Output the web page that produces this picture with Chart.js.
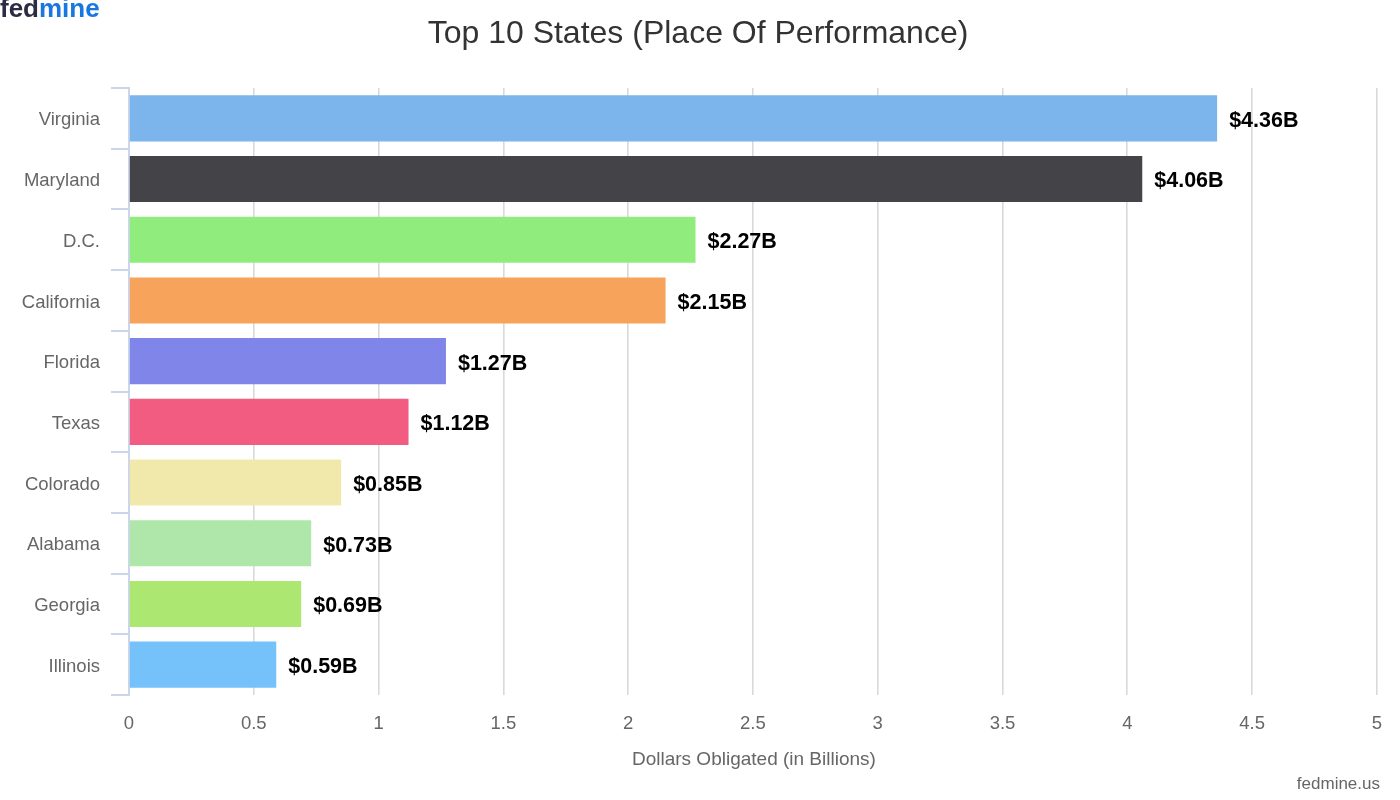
<!DOCTYPE html>
<html>
<head>
<meta charset="utf-8">
<script src="https://cdn.jsdelivr.net/npm/chart.js@4"></script>
<style>
html,body{margin:0;padding:0;background:#fff;}
#wrap{width:1400px;height:800px;position:relative;}
</style>
</head>
<body>
<div id="wrap"><canvas id="c" width="1400" height="800"></canvas></div>
<script>
const categories = ['Virginia','Maryland','D.C.','California','Florida','Texas','Colorado','Alabama','Georgia','Illinois'];
const values = [4.36, 4.06, 2.27, 2.15, 1.27, 1.12, 0.85, 0.73, 0.69, 0.59];
const barColors = ['#7cb5ec','#434348','#90ed7d','#f7a35c','#8085e9','#f15c80','#f1e9ac','#afe7ab','#abe771','#75c1f9'];
const xTicks = [0,0.5,1,1.5,2,2.5,3,3.5,4,4.5,5];
const chartTitle = 'Top 10 States (Place Of Performance)';
const xAxisTitle = 'Dollars Obligated (in Billions)';
const creditText = 'fedmine.us';

const FONT = '"Liberation Sans", Arial, Helvetica, sans-serif';

const decor = {
  id: 'decor',
  afterDraw(chart) {
    const ctx = chart.ctx;
    const area = chart.chartArea;
    ctx.save();
    // title
    ctx.fillStyle = '#333333';
    ctx.font = '32px ' + FONT;
    ctx.textAlign = 'center';
    ctx.textBaseline = 'middle';
    ctx.fillText(chartTitle, 698, 34);
    // x axis title
    ctx.fillStyle = '#666666';
    ctx.font = '19px ' + FONT;
    ctx.fillText(xAxisTitle, (area.left + area.right) / 2 + 1, 760);
    // credit
    ctx.textAlign = 'right';
    ctx.font = '17px ' + FONT;
    ctx.fillStyle = '#666666';
    ctx.fillText(creditText, 1380, 784);
    // logo
    ctx.textAlign = 'left';
    ctx.textBaseline = 'alphabetic';
    ctx.font = 'bold 26px ' + FONT;
    ctx.fillStyle = '#2a2d43';
    ctx.fillText('fed', 0, 17);
    const w = ctx.measureText('fed').width;
    ctx.fillStyle = '#1877e0';
    ctx.fillText('mine', w, 17);
    // data labels
    const meta = chart.getDatasetMeta(0);
    ctx.font = 'bold 21.5px ' + FONT;
    ctx.fillStyle = '#000000';
    ctx.textBaseline = 'middle';
    meta.data.forEach((bar, i) => {
      const v = chart.data.datasets[0].data[i];
      ctx.fillText('$' + v.toFixed(2) + 'B', bar.x + 12, bar.y + 2.5);
    });
    ctx.restore();
  }
};

new Chart(document.getElementById('c'), {
  type: 'bar',
  data: {
    labels: categories,
    datasets: [{
      data: values,
      backgroundColor: barColors,
      borderWidth: 0,
      barPercentage: 0.76,
      categoryPercentage: 1
    }]
  },
  options: {
    indexAxis: 'y',
    responsive: false,
    animation: false,
    devicePixelRatio: 1,
    layout: { padding: { top: 88, right: 21, left: 0, bottom: 0 } },
    plugins: { legend: { display: false }, tooltip: { enabled: false }, title: { display: false } },
    scales: {
      x: {
        type: 'linear',
        min: 0,
        max: 5,
        afterBuildTicks(scale) { scale.ticks = xTicks.map(v => ({ value: v })); },
        afterFit(scale) { scale.height = 105; },
        border: { display: false },
        grid: {
          drawTicks: false,
          color: ctx => (ctx.tick && ctx.tick.value === 0) ? 'rgba(0,0,0,0)' : '#d9d9d9',
          lineWidth: 1.6
        },
        ticks: {
          padding: 18,
          color: '#666666',
          font: { family: FONT, size: 18.5 },
          maxRotation: 0,
          autoSkip: false,
          callback: v => String(v)
        }
      },
      y: {
        afterFit(scale) { scale.width = 129; },
        border: { display: true, color: '#ccd6eb', width: 2 },
        grid: {
          offset: true,
          drawOnChartArea: false,
          drawTicks: true,
          tickLength: 18,
          color: '#ccd6eb',
          lineWidth: 2
        },
        ticks: {
          padding: 11,
          labelOffset: 2,
          color: '#666666',
          font: { family: FONT, size: 18.5 },
          autoSkip: false
        }
      }
    }
  },
  plugins: [decor]
});
</script>
</body>
</html>
